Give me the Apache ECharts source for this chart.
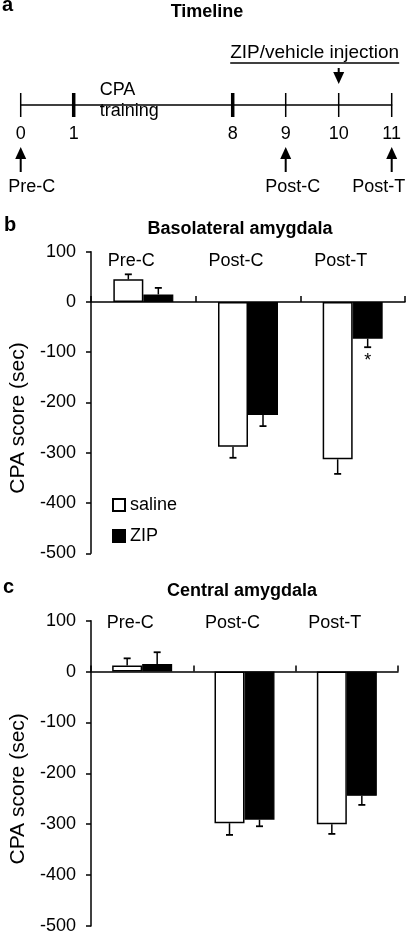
<!DOCTYPE html>
<html><head><meta charset="utf-8">
<script src="https://cdn.jsdelivr.net/npm/echarts@6/dist/echarts.min.js"></script>
<style>html,body{margin:0;padding:0;background:#fff}#c{width:408px;height:935px}</style>
</head><body><div id="c"></div>
<script>
const FAM = '"Liberation Sans", Arial, Helvetica, sans-serif';

// ---- Timeline (panel a) ----
const timelineDays = ['0', '1', '', '', '8', '9', '10', '11'];
const boldDays = ['1', '8'];
const upArrowDays = ['0', '9', '11'];
const upArrowLabels = ['Pre-C', 'Post-C', 'Post-T'];
const downArrowDays = ['10'];
const injectionLabel = 'ZIP/vehicle injection';
const trainingLabel = 'CPA\ntraining';

// ---- Bar panels ----
const categories = ['Pre-C', 'Post-C', 'Post-T'];
const seriesNames = ['saline', 'ZIP'];
// Basolateral amygdala (panel b)
const blaSaline = [45, -288, -313];
const blaSalineErr = [10, 22, 29];
const blaZIP = [15, -225, -73];
const blaZIPErr = [13, 22, 17];
const blaZIPSig = ['', '', '*'];
// Central amygdala (panel c)
const ceaSaline = [12, -298, -300];
const ceaSalineErr = [14, 23, 19];
const ceaZIP = [15, -291, -244];
const ceaZIPErr = [23, 13, 18];
// Axis
const yMin = -500, yMax = 100, yStep = 100;
const yAxisTitle = 'CPA score (sec)';

const font = (s, w) => (w || 'normal') + ' ' + s + 'px ' + FAM;

function measure(text, f) {
  const c = document.createElement('canvas').getContext('2d');
  c.font = f; return c.measureText(text).width;
}

// ---------- helpers ----------
function barSeries(g, name, vals, isZip) {
  return {
    type: 'bar', name, xAxisIndex: g, yAxisIndex: g, data: vals,
    barWidth: 30, barGap: '0%', z: 2,
    itemStyle: isZip ? { color: '#000', borderColor: '#000', borderWidth: 1.2 }
                     : { color: '#fff', borderColor: '#000', borderWidth: 1.5 }
  };
}
function errSeries(g, means, errs, side, sig) {
  return {
    type: 'custom', xAxisIndex: g, yAxisIndex: g, z: 5, silent: true,
    data: means.map((m, i) => [i, m, errs[i]]),
    renderItem(params, api) {
      const i = api.value(0), m = api.value(1), e = api.value(2);
      const dir = m >= 0 ? 1 : -1;
      const p0 = api.coord([i, m]);
      const p1 = api.coord([i, m + dir * e]);
      const x = p0[0] + side * 15;
      const ch = [
        { type: 'line', shape: { x1: x, y1: p0[1], x2: x, y2: p1[1] }, style: { stroke: '#000', lineWidth: 1.5 } },
        { type: 'line', shape: { x1: x - 3.5, y1: p1[1], x2: x + 3.5, y2: p1[1] }, style: { stroke: '#000', lineWidth: 1.8 } }
      ];
      const s = sig ? sig[params.dataIndex] : '';
      if (s) ch.push({ type: 'text', style: { text: s, x: x, y: p1[1] + 5, align: 'center', verticalAlign: 'top', font: font(18), fill: '#000' } });
      return { type: 'group', children: ch };
    }
  };
}
function catLabelSeries(g, labelVal) {
  return {
    type: 'custom', xAxisIndex: g, yAxisIndex: g, z: 6, silent: true,
    data: categories.map((c, i) => [i, labelVal]),
    renderItem(params, api) {
      const p = api.coord([api.value(0), api.value(1)]);
      return { type: 'text', style: { text: categories[params.dataIndex], x: p[0] - 12, y: p[1], align: 'center', verticalAlign: 'middle', font: font(18), fill: '#000' } };
    }
  };
}
function xAxisBar(g) {
  return {
    gridIndex: g, type: 'category', data: categories, boundaryGap: true,
    axisLine: { onZero: true, lineStyle: { color: '#000', width: 1.5 } },
    axisTick: { show: true, inside: true, length: 6, lineStyle: { color: '#000', width: 1.5 } },
    axisLabel: { show: false }, splitLine: { show: false }
  };
}
function yAxisBar(g) {
  return {
    gridIndex: g, type: 'value', min: yMin, max: yMax, interval: yStep,
    name: yAxisTitle, nameLocation: 'middle', nameGap: 62,
    nameTextStyle: { fontFamily: FAM, fontSize: 21, color: '#000', padding: [0, 31, 0, 0] },
    axisLine: { show: true, lineStyle: { color: '#000', width: 1.5 } },
    axisTick: { show: true, length: 5, lineStyle: { color: '#000', width: 1.5 } },
    axisLabel: { fontFamily: FAM, fontSize: 18, color: '#000', margin: 15 },
    splitLine: { show: false }
  };
}

// ---------- timeline custom series ----------
const dayIdx = d => timelineDays.indexOf(d);
const timelineTicks = {
  type: 'custom', xAxisIndex: 0, yAxisIndex: 0, z: 5, silent: true, clip: false,
  data: timelineDays.map((d, i) => [i, 0]).filter((_, i) => timelineDays[i] !== ''),
  renderItem(params, api) {
    const p = api.coord([api.value(0), 0]);
    const d = timelineDays[api.value(0)];
    const w = boldDays.includes(d) ? 3.5 : 1.5;
    return { type: 'line', shape: { x1: p[0], y1: p[1] - 12, x2: p[0], y2: p[1] + 12 }, style: { stroke: '#000', lineWidth: w } };
  }
};
const upLabelDx = [11, 7, -13];
const timelineArrows = {
  type: 'custom', xAxisIndex: 0, yAxisIndex: 0, z: 5, silent: true, clip: false,
  data: upArrowDays.map(d => [dayIdx(d), 0]),
  renderItem(params, api) {
    const p = api.coord([api.value(0), 0]);
    const x = p[0], y = p[1];
    const tip = y + 42, base = tip + 12, tail = y + 67;
    return { type: 'group', children: [
      { type: 'line', shape: { x1: x, y1: base, x2: x, y2: tail }, style: { stroke: '#000', lineWidth: 2 } },
      { type: 'polygon', shape: { points: [[x, tip], [x - 5.5, base], [x + 5.5, base]] }, style: { fill: '#000' } },
      { type: 'text', style: { text: upArrowLabels[params.dataIndex], x: x + upLabelDx[params.dataIndex], y: y + 82, align: 'center', verticalAlign: 'middle', font: font(18), fill: '#000' } }
    ] };
  }
};
const injWidth = measure(injectionLabel, font(19));
const timelineInjection = {
  type: 'custom', xAxisIndex: 0, yAxisIndex: 0, z: 5, silent: true, clip: false,
  data: downArrowDays.map(d => [dayIdx(d), 0]),
  renderItem(params, api) {
    const p = api.coord([api.value(0), 0]);
    const x = p[0], y = p[1];
    const tip = y - 21, base = tip - 12, tail = y - 37;
    const cx = x - 24;
    return { type: 'group', children: [
      { type: 'line', shape: { x1: x, y1: tail, x2: x, y2: base }, style: { stroke: '#000', lineWidth: 2 } },
      { type: 'polygon', shape: { points: [[x, tip], [x - 5.5, base], [x + 5.5, base]] }, style: { fill: '#000' } },
      { type: 'text', style: { text: injectionLabel, x: cx, y: y - 52, align: 'center', verticalAlign: 'middle', font: font(19), fill: '#000' } },
      { type: 'line', shape: { x1: cx - injWidth / 2, y1: y - 42, x2: cx + injWidth / 2, y2: y - 42 }, style: { stroke: '#000', lineWidth: 1.5 } }
    ] };
  }
};
const timelineTraining = {
  type: 'custom', xAxisIndex: 0, yAxisIndex: 0, z: 5, silent: true, clip: false,
  data: [[dayIdx('1'), 0]],
  renderItem(params, api) {
    const p = api.coord([api.value(0), 0]);
    return { type: 'text', style: { text: trainingLabel, x: p[0] + 26, y: p[1] - 4, align: 'left', verticalAlign: 'middle', lineHeight: 21, font: font(18), fill: '#000' } };
  }
};

const chart = echarts.init(document.getElementById('c'), null, { renderer: 'canvas' });
chart.setOption({
  animation: false,
  backgroundColor: '#fff',
  textStyle: { fontFamily: FAM },
  title: [
    { text: 'a', left: 2, top: -5, padding: 0, textStyle: { fontFamily: FAM, fontSize: 20, fontWeight: 'bold', color: '#000' } },
    { text: 'Timeline', left: 207, top: 3, textAlign: 'center', padding: 0, textStyle: { fontFamily: FAM, fontSize: 18, fontWeight: 'bold', color: '#000' } },
    { text: 'b', left: 4, top: 215, padding: 0, textStyle: { fontFamily: FAM, fontSize: 20, fontWeight: 'bold', color: '#000' } },
    { text: 'Basolateral amygdala', left: 240, top: 220, textAlign: 'center', padding: 0, textStyle: { fontFamily: FAM, fontSize: 18, fontWeight: 'bold', color: '#000' } },
    { text: 'c', left: 3, top: 577, padding: 0, textStyle: { fontFamily: FAM, fontSize: 20, fontWeight: 'bold', color: '#000' } },
    { text: 'Central amygdala', left: 242, top: 582, textAlign: 'center', padding: 0, textStyle: { fontFamily: FAM, fontSize: 18, fontWeight: 'bold', color: '#000' } }
  ],
  legend: {
    data: seriesNames, orient: 'vertical', left: 112, top: 496, itemWidth: 12, itemHeight: 12, itemGap: 13,
    icon: 'rect', padding: 0,
    textStyle: { fontFamily: FAM, fontSize: 18, color: '#000' }
  },
  grid: [
    { left: 20.7, right: 16.3, top: 35, height: 70 },
    { left: 86, right: 3, top: 251.7, height: 301.6 },
    { left: 86, right: 10, top: 620.7, height: 305.3 }
  ],
  xAxis: [
    { gridIndex: 0, type: 'category', data: timelineDays, boundaryGap: false,
      axisLine: { onZero: false, lineStyle: { color: '#000', width: 1.5 } },
      axisTick: { show: false },
      axisLabel: { interval: 0, fontFamily: FAM, fontSize: 18, color: '#000', margin: 20 },
      splitLine: { show: false } },
    xAxisBar(1), xAxisBar(2)
  ],
  yAxis: [
    { gridIndex: 0, type: 'value', min: 0, max: 1, show: false, splitLine: { show: false } },
    yAxisBar(1), yAxisBar(2)
  ],
  series: [
    timelineTicks, timelineArrows, timelineInjection, timelineTraining,
    barSeries(1, 'saline', blaSaline, false), barSeries(1, 'ZIP', blaZIP, true),
    errSeries(1, blaSaline, blaSalineErr, -1), errSeries(1, blaZIP, blaZIPErr, 1, blaZIPSig),
    catLabelSeries(1, 81),
    barSeries(2, 'saline', ceaSaline, false), barSeries(2, 'ZIP', ceaZIP, true),
    errSeries(2, ceaSaline, ceaSalineErr, -1), errSeries(2, ceaZIP, ceaZIPErr, 1),
    catLabelSeries(2, 95)
  ]
});
</script></body></html>
